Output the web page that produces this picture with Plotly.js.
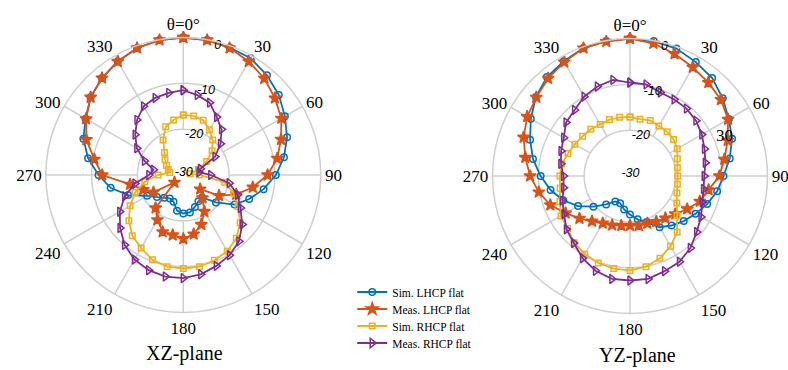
<!DOCTYPE html>
<html>
<head>
<meta charset="utf-8">
<script src="https://cdn.plot.ly/plotly-3.0.1.min.js"></script>
<style>html,body{margin:0;padding:0;background:#fff;}#chart{width:788px;height:370px;}</style>
</head>
<body>
<div id="chart"></div>
<script>
// Angles (deg, clockwise from top)
const theta = [0,10,20,30,40,50,60,70,80,90,100,110,120,130,140,150,160,170,180,190,200,210,220,230,240,250,260,270,280,290,300,310,320,330,340,350];
const angTickVals = [0,30,60,90,120,150,180,210,240,270,300,330];
const angTickText = ['θ=0°','30','60','90','120','150','180','210','240','270','300','330'];
const radTickVals = [-30,-20,-10,0];
const radTickText = ['-30','-20','-10','0'];
const seriesNames = ['Sim. LHCP flat','Meas. LHCP flat','Sim. RHCP flat','Meas. RHCP flat'];

// XZ-plane (dB)
const xzSimLHCP  = [0,-0.1,-0.4,-0.6,-1.6,-2.8,-4.4,-5.9,-7.7,-9.8,-12.2,-14.7,-17.1,-20.7,-23.6,-23.4,-22.6,-21.7,-21.6,-22.1,-23.8,-24.1,-23.5,-22.5,-20.9,-17.2,-13.9,-11.5,-8.9,-6.8,-5.4,-3.6,-2.4,-1.4,-0.5,-0.1];
const xzMeasLHCP = [0,-0.1,-0.5,-1.4,-2.5,-3.9,-5.3,-7.3,-9.2,-11.6,-14.6,-17.7,-21,-25.2,-23.5,-20.8,-18.5,-16.9,-16.1,-16.7,-16.8,-18.7,-20.6,-27.5,-22.5,-20.7,-18.2,-12.3,-10.3,-7.5,-5.5,-3.6,-2.4,-1.4,-0.5,-0.1];
const xzSimRHCP  = [-16.9,-16.9,-17.3,-18.6,-20,-21.8,-24.1,-26.5,-28.5,-26.5,-20.8,-18.3,-16.2,-13.8,-12,-10.8,-10.2,-9.7,-9.6,-9.7,-10.3,-11.6,-12.7,-14.5,-16.6,-18.8,-21.5,-24.5,-27,-26.5,-25.8,-24.8,-23.6,-21.2,-18.8,-17.8];
const xzMeasRHCP = [-11.5,-12.3,-13.2,-15.4,-17,-19.4,-22,-26,-26.5,-24,-19.8,-17.4,-15.6,-13.2,-11.1,-9.8,-8.9,-8,-7.5,-7.5,-7.9,-8.7,-10.1,-12,-14,-16.4,-19.3,-22.5,-23.4,-21,-18.3,-16.3,-14.3,-12.7,-12.1,-11.8];

// YZ-plane (dB)
const yzSimLHCP  = [0,-0.1,-0.4,-1.3,-2.1,-3.6,-5.1,-6.3,-7.9,-9.6,-10.7,-12.1,-13.5,-14.7,-15.9,-17.1,-19.3,-20.4,-21.6,-22.6,-23.7,-23.6,-21.9,-19.6,-16.9,-14.5,-12.4,-10.5,-8.5,-6.8,-5,-3.2,-1.8,-1.1,-0.3,-0.1];
const yzMeasLHCP = [0,-0.6,-1.6,-2.6,-3.4,-4.1,-5.3,-7.3,-9.1,-10.5,-12.6,-13.8,-15.6,-17.1,-18,-18.5,-19,-19,-19.2,-19,-18.6,-18.1,-17.1,-15.6,-13.8,-11.5,-9.8,-8.2,-6.8,-5.3,-4.1,-3.3,-2.2,-1.3,-0.3,-0.2];
const yzSimRHCP  = [-17.1,-17.4,-17.1,-17.4,-17.4,-17.6,-18.1,-19,-19.5,-19.6,-19.5,-19.1,-18.2,-16.6,-14,-12.3,-10.9,-9.9,-9.4,-9.5,-9.8,-10.3,-11,-12.2,-12.6,-13.7,-14.5,-14.7,-14.9,-15.6,-16.1,-16.5,-16.7,-17,-16.9,-17];
const yzMeasRHCP = [-9.6,-9.7,-10.6,-10.7,-10.8,-11.2,-11.9,-12.7,-13.3,-13.8,-13.7,-13.2,-12.1,-11,-9.5,-8.4,-7.9,-7.2,-7.2,-7.2,-8,-9.3,-10.9,-11.9,-13.4,-14.3,-15.3,-15.5,-14.7,-14,-13.3,-11.8,-11.2,-10,-9.2,-8.7];

const colors = ['#0072BD','#D95319','#EDB120','#7E2F8E'];
const symbols = ['circle-open','star','square-open','triangle-right-open'];
const msizes = [6.5,9,5.5,8];
const gridColor = '#cfcfcf';
const legendRowsY = [292, 309, 326, 343]; // px from top
const radLabelAngle = 15;

function closeLoop(a){ return a.concat([a[0]]); }

const traces = [];
// spokes (grid) drawn from the -20 ring outward
function spokes(sub){
  const r=[], t=[];
  angTickVals.forEach(a=>{ r.push(-20,0,null); t.push(a,a,null); });
  return {type:'scatterpolar', subplot:sub, r:r, theta:t, mode:'lines',
    line:{color:gridColor,width:1.5}, hoverinfo:'skip', showlegend:false};
}
traces.push(spokes('polar'));
traces.push(spokes('polar2'));

const xzData = [xzSimLHCP,xzMeasLHCP,xzSimRHCP,xzMeasRHCP];
const yzData = [yzSimLHCP,yzMeasLHCP,yzSimRHCP,yzMeasRHCP];
[[xzData,'polar',true],[yzData,'polar2',false]].forEach(([data,sub,leg])=>{
  data.forEach((vals,i)=>{
    traces.push({type:'scatterpolar', subplot:sub, name:seriesNames[i], showlegend:leg,
      legend: i===0 ? 'legend' : 'legend'+(i+1),
      r:closeLoop(vals), theta:closeLoop(theta), mode:'lines+markers',
      line:{color:colors[i],width:1.8},
      marker:{symbol:symbols[i],size:msizes[i],color:colors[i],line:{color:colors[i],width:1.5}}});
  });
});

// radial tick labels, placed on the 15° line just inside each ring
function radLabels(sub){
  return {type:'scatterpolar', subplot:sub, mode:'text', showlegend:false, hoverinfo:'skip',
    r: radTickVals.map(v=>Math.max(v-0.9,-29.6)), theta: radTickVals.map(()=>radLabelAngle),
    text: radTickText, textposition:'middle center',
    textfont:{family:'Liberation Sans',size:12.5,color:'#000',style:'italic'}};
}
traces.push(radLabels('polar'));
traces.push(radLabels('polar2'));

function polarLayout(dx,dy){
  return {
    domain:{x:dx,y:dy},
    bgcolor:'rgba(0,0,0,0)',
    angularaxis:{rotation:90,direction:'clockwise',tickmode:'array',tickvals:angTickVals,ticktext:angTickText,
      showgrid:false,showline:true,linecolor:gridColor,linewidth:1.5,ticks:'',
      tickfont:{family:'Liberation Serif',size:17,color:'#000'}},
    radialaxis:{range:[-30,0],tickmode:'array',tickvals:radTickVals,showticklabels:false,
      showline:false,ticks:'',showgrid:true,gridcolor:gridColor,gridwidth:1.5}
  };
}

function legendAt(rowY){
  return {x:0.447,y:1-rowY/370,xanchor:'left',yanchor:'middle',bgcolor:'rgba(0,0,0,0)',
    font:{family:'Liberation Serif',size:11.5,color:'#000'}};
}

const layout = {
  width:788,height:370,margin:{l:0,r:0,t:0,b:0},
  paper_bgcolor:'#fff',
  showlegend:true,
  polar:polarLayout([0.0581,0.4071],[0.1554,0.8986]),
  polar2:polarLayout([0.625,0.974],[0.1527,0.8959]),
  legend:legendAt(legendRowsY[0]),
  legend2:legendAt(legendRowsY[1]),
  legend3:legendAt(legendRowsY[2]),
  legend4:legendAt(legendRowsY[3]),
  annotations:[
    {text:'XZ-plane',x:184/788,y:1-353/370,xref:'paper',yref:'paper',xanchor:'center',yanchor:'middle',showarrow:false,
     font:{family:'Liberation Serif',size:20,color:'#000'}},
    {text:'YZ-plane',x:637/788,y:1-355/370,xref:'paper',yref:'paper',xanchor:'center',yanchor:'middle',showarrow:false,
     font:{family:'Liberation Serif',size:20,color:'#000'}},
    {text:'30',x:724/788,y:1-135/370,xref:'paper',yref:'paper',xanchor:'center',yanchor:'middle',showarrow:false,
     font:{family:'Liberation Serif',size:17,color:'#000'}}
  ]
};

Plotly.newPlot('chart',traces,layout,{staticPlot:true});
</script>
</body>
</html>
